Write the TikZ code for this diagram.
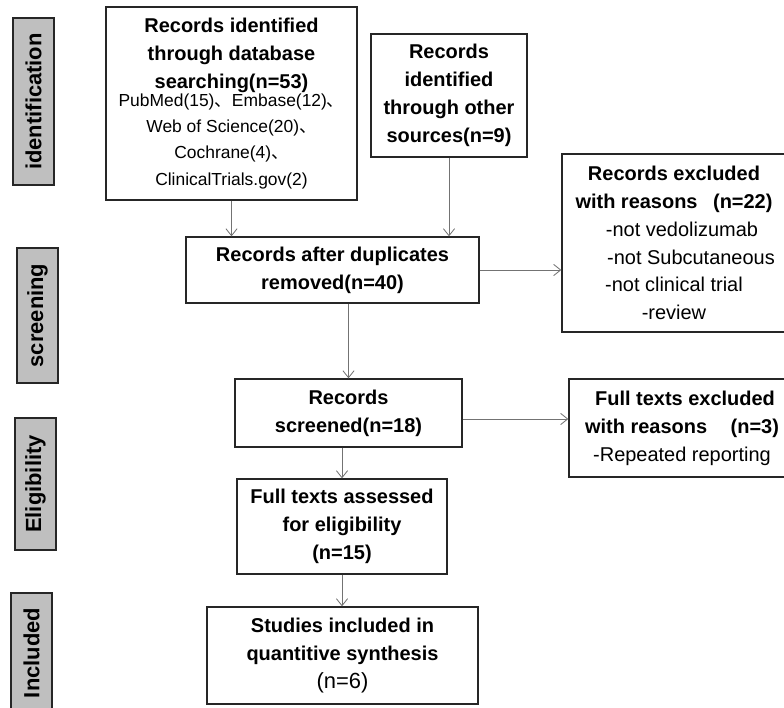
\documentclass[tikz,border=0pt]{standalone}
\usepackage{fontspec}
\setmainfont{Liberation Sans}
\newfontfamily\cjk{Noto Sans CJK SC}
\usetikzlibrary{arrows.meta}
\newcommand{\dunhao}{{\cjk 、}}
\newcommand{\plain}{\normalfont\fontsize{14.2}{19.2}\selectfont}
\newcommand{\lst}{\normalfont\fontsize{12.4}{18.8}\selectfont}

\begin{document}
\begin{tikzpicture}[x=0.025cm,y=-0.025cm,
            box/.style={draw=black!85, line width=0.9pt, align=center, inner sep=0pt,
                        font=\fontsize{14.2}{19.8}\selectfont\bfseries},
            stage/.style={draw=black!85, line width=0.9pt, fill=black!25, rotate=90,
                        inner sep=0pt, minimum height=1.025cm,
                        font=\fontsize{15.6}{18}\selectfont\bfseries},
            arr/.style={draw=black!55, line width=0.6pt, -{Straight Barb[length=5pt,width=8pt]}}]
				\clip (0,0) rectangle (784,708);

				% stage labels
				\node[stage, minimum width=4.175cm] (idlab) at (33.5,101.5) {identification};
				\node[stage, minimum width=3.375cm] (scrlab) at (37.5,315.5) {screening};
				\node[stage, minimum width=3.3cm] (elilab) at (35.5,484) {Eligibility};
				\node[stage, minimum width=3.0cm] (inclab) at (31.5,653) {Included};

				% flow boxes
				\node[box, minimum width=6.275cm, minimum height=4.825cm,
				      font=\fontsize{14.2}{18.8}\selectfont\bfseries] (db) at (231.5,103.5)
					{Records identified\\[1pt] through database\\[1pt] searching(n=53)\\[-6pt]
					 \lst PubMed(15)\dunhao Embase(12)\dunhao\\ \lst Web of Science(20)\dunhao\\
					 \lst Cochrane(4)\dunhao\\ \lst ClinicalTrials.gov(2)};
				\node[box, minimum width=3.9cm, minimum height=3.075cm] (other) at (449,95.5)
					{Records\\ identified\\ through other\\ sources(n=9)};
				\node[box, minimum width=7.325cm, minimum height=1.65cm] (dup) at (332.5,270)
					{Records after duplicates\\ removed(n=40)};
				\node[box, minimum width=5.6cm, minimum height=4.45cm] (excl1) at (674,243)
					{Records excluded\\ with reasons\hspace{0.5em} (n=22)\\
					 \plain\hspace{0.8em}-not vedolizumab\\ \plain\hspace{1.7em}-not Subcutaneous\\
					 \plain -not clinical trial\\ \plain -review};
				\node[box, minimum width=5.675cm, minimum height=1.7cm] (screened) at (348.5,413)
					{Records\\ screened(n=18)};
				\node[box, minimum width=5.65cm, minimum height=2.45cm] (excl2) at (682,428)
					{\hspace{0.3em}Full texts excluded\\ with reasons\hspace{0.9em} (n=3)\\
					 \plain -Repeated reporting};
				\node[box, minimum width=5.25cm, minimum height=2.375cm] (full) at (342,526.5)
					{Full texts assessed\\ for eligibility\\ (n=15)};
				\node[box, minimum width=6.775cm, minimum height=2.425cm] (incl) at (342.5,655.5)
					{Studies included in\\ quantitive synthesis\\
					 \normalfont\fontsize{15.6}{19.8}\selectfont (n=6)};

				% connectors
				\draw[arr] (db.south) -- (db.south |- dup.north);
				\draw[arr] (other.south) -- (other.south |- dup.north);
				\draw[arr] (dup.east) -- (dup.east -| excl1.west);
				\draw[arr] (screened.north |- dup.south) -- (screened.north);
				\draw[arr] ([yshift=-0.15cm]screened.east) -- ([yshift=-0.15cm]screened.east -| excl2.west);
				\draw[arr] (full.north |- screened.south) -- (full.north);
				\draw[arr] (full.south) -- (full.south |- incl.north);
\end{tikzpicture}
\end{document}
